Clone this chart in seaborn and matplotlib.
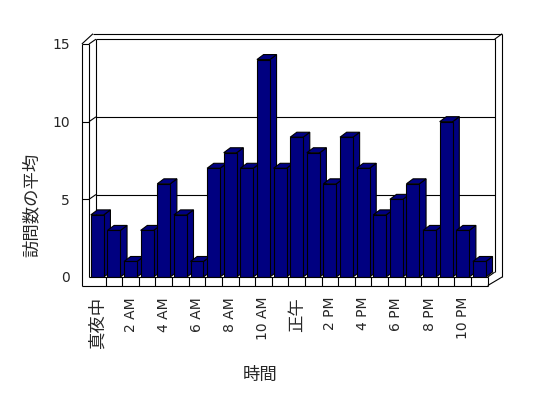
import matplotlib
matplotlib.use('Agg')
import matplotlib.pyplot as plt
from matplotlib.patches import Polygon
import seaborn as sns

hours = ['真夜中', '1 AM', '2 AM', '3 AM', '4 AM', '5 AM', '6 AM', '7 AM',
         '8 AM', '9 AM', '10 AM', '11 AM', '正午', '1 PM', '2 PM', '3 PM',
         '4 PM', '5 PM', '6 PM', '7 PM', '8 PM', '9 PM', '10 PM', '11 PM']
visits = [4, 3, 1, 3, 6, 4, 1, 7, 8, 7, 14, 7, 9, 8, 6, 9, 7, 4, 5, 6, 3, 10, 3, 1]
y_ticks = [0, 5, 10, 15]

navy = '#000080'
lw = 0.8

sns.set_style('white')
plt.rcParams['font.family'] = ['DejaVu Sans', 'Noto Sans CJK JP']

fig = plt.figure(figsize=(5.48, 3.98), dpi=100)
ax = fig.add_axes([89 / 548, 1 - 277 / 398, 398.7 / 548, 233 / 398])

sns.barplot(x=hours, y=visits, color=navy, saturation=1, width=0.78,
            errorbar=None, edgecolor='black', linewidth=lw, zorder=3, ax=ax)

# fake 3d: side and top faces of each column
depth_x, depth_y = 0.40, 0.32
for bar in list(ax.patches):
    x0, w, h = bar.get_x(), bar.get_width(), bar.get_height()
    x1 = x0 + w
    side = [(x1, 0), (x1 + depth_x, depth_y), (x1 + depth_x, h + depth_y), (x1, h)]
    top = [(x0, h), (x0 + depth_x, h + depth_y), (x1 + depth_x, h + depth_y), (x1, h)]
    for pts in (side, top):
        ax.add_patch(Polygon(pts, closed=True, facecolor=navy, edgecolor='black',
                             lw=lw, zorder=2, clip_on=False))

L, R = -0.5, len(hours) - 0.5
T = y_ticks[-1]
DX, DY = 0.42, 0.31      # front plane -> back wall
BX, BY = 0.45, 0.35      # back wall thickness
WT = 0.43                # left wall thickness
FT = 0.55                # floor thickness


def seg(xs, ys, z=4):
    ax.plot(xs, ys, color='black', lw=lw, clip_on=False, zorder=z,
            solid_capstyle='butt')


# gridlines on back wall + left wall
for v in y_ticks[1:]:
    seg([L + DX, R + DX], [v + DY, v + DY], z=1)
    seg([L, L + DX], [v, v + DY], z=1)
    seg([L - WT, L], [v, v])

# back wall
seg([L + DX, L + DX], [DY, T + DY], z=1)
seg([R + DX, R + DX], [DY, T + DY], z=1)
seg([R + DX + BX, R + DX + BX], [0, T + DY + BY])
seg([L + 0.24, R + DX + BX], [T + DY + BY, T + DY + BY])
seg([R + DX, R + DX + BX], [T + DY, T + DY + BY])
seg([R, R + DX], [0, DY])
seg([R, R + DX + BX], [-FT, 0])

# left wall
seg([L - WT, L - WT], [-FT, T])
seg([L, L], [0, T])
seg([L - WT, L + 0.24], [T, T + DY + BY])

# floor
seg([L, R], [0, 0])
seg([L - WT, R], [-FT, -FT])
for k in range(1, len(hours) + 1):
    seg([L + k, L + k], [-FT, 0])

ax.set_xlim(L, R)
ax.set_ylim(0, T)
sns.despine(ax=ax, left=True, bottom=True)

ax.set_yticks(y_ticks)
ax.tick_params(axis='y', length=0, pad=13.7, labelsize=10)
ax.set_xticks(range(0, len(hours), 2))
ax.set_xticklabels(hours[::2], rotation=90)
ax.tick_params(axis='x', length=0, pad=14.4, labelsize=10)
for lab in ax.get_xticklabels():
    if lab.get_text() in ('真夜中', '正午'):
        lab.set_fontsize(12.5)

ax.set_ylabel('訪問数の平均', fontsize=12.5)
ax.yaxis.set_label_coords(-0.122, 0.309)
ax.set_xlabel('時間', fontsize=12.5)
ax.xaxis.set_label_coords(0.429, -0.384)

fig.savefig('out.png', dpi=100)
